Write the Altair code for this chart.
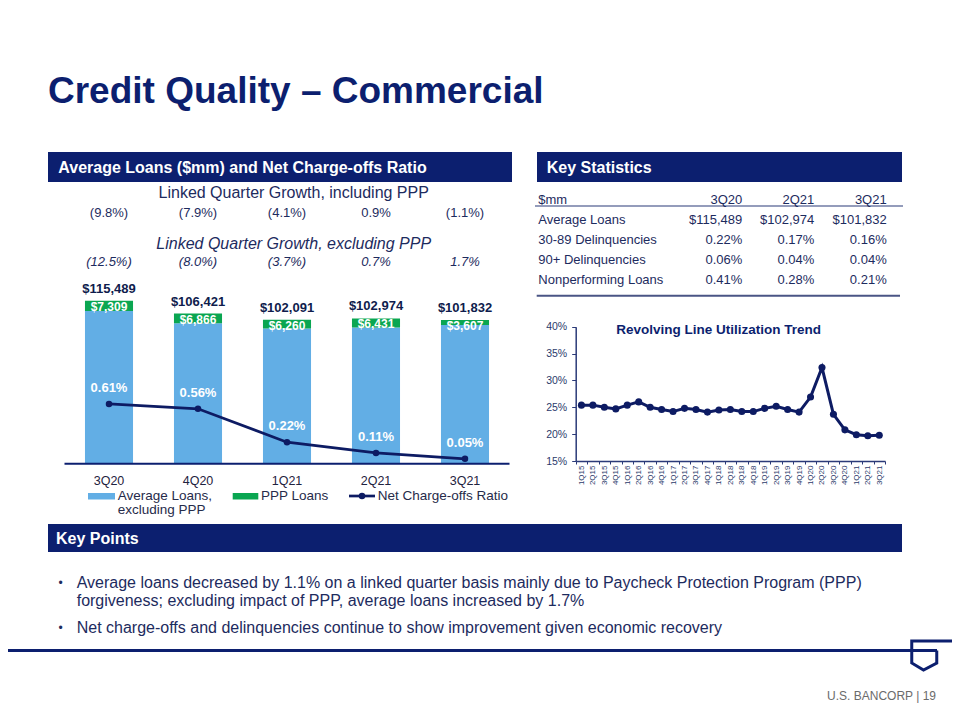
import altair as alt
import pandas as pd

FONT = "Liberation Sans"
NAVY = "#0c1f6f"
LINE_NAVY = "#0d1b63"
TXT = "#1d2b5e"
BLUE = "#62aee5"
GREEN = "#0aa651"

# ---------------- data ----------------
quarters = ["3Q20", "4Q20", "1Q21", "2Q21", "3Q21"]
avg_loans_total = [115489, 106421, 102091, 102974, 101832]
ppp_loans = [7309, 6866, 6260, 6431, 3607]
nco_ratio = [0.61, 0.56, 0.22, 0.11, 0.05]
growth_incl = ["(9.8%)", "(7.9%)", "(4.1%)", "0.9%", "(1.1%)"]
growth_excl = ["(12.5%)", "(8.0%)", "(3.7%)", "0.7%", "1.7%"]

util_quarters = ["1Q15", "2Q15", "3Q15", "4Q15", "1Q16", "2Q16", "3Q16", "4Q16",
                 "1Q17", "2Q17", "3Q17", "4Q17", "1Q18", "2Q18", "3Q18", "4Q18",
                 "1Q19", "2Q19", "3Q19", "4Q19", "1Q20", "2Q20", "3Q20", "4Q20",
                 "1Q21", "2Q21", "3Q21"]
util_values = [25.4, 25.4, 25.0, 24.7, 25.4, 26.0, 25.0, 24.6, 24.2, 24.8, 24.6, 24.1,
               24.5, 24.6, 24.2, 24.2, 24.8, 25.2, 24.6, 24.1, 26.9, 32.4, 23.7, 20.8,
               19.9, 19.7, 19.8]
util_ticks = [0.15, 0.20, 0.25, 0.30, 0.35, 0.40]

stat_rows = ["$mm", "Average Loans", "30-89 Delinquencies", "90+ Delinquencies", "Nonperforming Loans"]
col_3q20 = ["3Q20", "$115,489", "0.22%", "0.06%", "0.41%"]
col_2q21 = ["2Q21", "$102,974", "0.17%", "0.04%", "0.28%"]
col_3q21 = ["3Q21", "$101,832", "0.16%", "0.04%", "0.21%"]

bullet_1a = "Average loans decreased by 1.1% on a linked quarter basis mainly due to Paycheck Protection Program (PPP)"
bullet_1b = "forgiveness; excluding impact of PPP, average loans increased by 1.7%"
bullet_2 = "Net charge-offs and delinquencies continue to show improvement given economic recovery"


def P(v):
    # slide pixel -> chart pixel (page margin 8px)
    return v - 8


def txt(s, x, y, size, color=TXT, bold=False, italic=False, align="left", baseline="middle"):
    return alt.Chart(pd.DataFrame({"t": [s]})).mark_text(
        font=FONT, fontSize=size, color=color,
        fontWeight="bold" if bold else "normal",
        fontStyle="italic" if italic else "normal",
        align=align, baseline=baseline,
    ).encode(x=alt.value(P(x)), y=alt.value(P(y)), text="t:N")


def box(x1, y1, x2, y2, color):
    return alt.Chart(pd.DataFrame({"a": [0]})).mark_rect(color=color).encode(
        x=alt.value(P(x1)), x2=alt.value(P(x2)), y=alt.value(P(y1)), y2=alt.value(P(y2)))


def hline(x1, x2, y, color, w):
    return alt.Chart(pd.DataFrame({"a": [0]})).mark_rule(color=color, strokeWidth=w).encode(
        x=alt.value(P(x1)), x2=alt.value(P(x2)), y=alt.value(P(y)))


# ---------------- bar chart ----------------
df_bar = pd.DataFrame({"q": quarters, "total": avg_loans_total, "ppp": ppp_loans,
                       "gi": growth_incl, "ge": growth_excl})
df_bar["ex"] = df_bar["total"] - df_bar["ppp"]
df_bar["total_lbl"] = ["$" + f"{v:,}" for v in avg_loans_total]
df_bar["ppp_lbl"] = ["$" + f"{v:,}" for v in ppp_loans]

BASE_Y = 463.7


def xb():
    return alt.X("q:N", sort=quarters, title=None, axis=None,
                 scale=alt.Scale(type="band", domain=quarters, range=[P(64.5), P(509.5)],
                                 paddingInner=0.46, paddingOuter=0.23))


ysc = alt.Scale(domain=[0, 120000], range=[P(BASE_Y), P(BASE_Y - 169.3)], nice=False, zero=True)

bb = alt.Chart(df_bar)
blue_bars = bb.mark_bar(color=BLUE).encode(x=xb(), y=alt.Y("ex:Q", scale=ysc, axis=None))
green_bars = bb.mark_bar(color=GREEN).encode(x=xb(), y=alt.Y("ex:Q", scale=ysc, axis=None), y2="total:Q")
total_lbls = bb.mark_text(font=FONT, fontSize=13, fontWeight="bold", color="#0f1c4d",
                          baseline="bottom", dy=-5).encode(
    x=xb(), y=alt.Y("total:Q", scale=ysc, axis=None), text="total_lbl:N")
ppp_lbls = bb.mark_text(font=FONT, fontSize=12, fontWeight="bold", color="white",
                        baseline="middle", dy=6).encode(
    x=xb(), y=alt.Y("total:Q", scale=ysc, axis=None), text="ppp_lbl:N")
gi_row = bb.mark_text(font=FONT, fontSize=13, color=TXT, baseline="middle").encode(
    x=xb(), y=alt.value(P(213.3)), text="gi:N")
ge_row = bb.mark_text(font=FONT, fontSize=13, fontStyle="italic", color=TXT, baseline="middle").encode(
    x=xb(), y=alt.value(P(261.7)), text="ge:N")
q_axis_lbls = bb.mark_text(font=FONT, fontSize=12.5, color="#1f2340", baseline="middle").encode(
    x=xb(), y=alt.value(P(480.5)), text="q:N")
bar_layer = alt.layer(blue_bars, green_bars, total_lbls, ppp_lbls, gi_row, ge_row, q_axis_lbls)

# ---------------- net charge-offs line ----------------
df_nco = pd.DataFrame({"q": quarters, "nco": nco_ratio})
df_nco["lbl"] = [f"{v:.2f}%" for v in nco_ratio]
nsc = alt.Scale(domain=[0, 1], range=[P(BASE_Y), P(BASE_Y - 98)], nice=False, zero=True)
nb = alt.Chart(df_nco)
nco_line = nb.mark_line(color=LINE_NAVY, strokeWidth=2.7,
                        point=alt.OverlayMarkDef(filled=True, size=42, color=LINE_NAVY)).encode(
    x=xb(), y=alt.Y("nco:Q", scale=nsc, axis=None))
nco_lbls = nb.mark_text(font=FONT, fontSize=13, fontWeight="bold", color="white",
                        baseline="middle", dy=-16).encode(
    x=xb(), y=alt.Y("nco:Q", scale=nsc, axis=None), text="lbl:N")
nco_layer = alt.layer(nco_line, nco_lbls)

# ---------------- key statistics table ----------------
df_tab = pd.DataFrame({"row": list(range(len(stat_rows))), "label": stat_rows,
                       "a": col_3q20, "b": col_2q21, "c": col_3q21})
ytab = alt.Y("row:O", axis=None,
             scale=alt.Scale(type="point", domain=list(range(len(stat_rows))),
                             range=[P(200.2), P(279.5)], padding=0))
tb = alt.Chart(df_tab)
tab_layers = [
    tb.mark_text(font=FONT, fontSize=13, color=TXT, align="left", baseline="middle").encode(
        x=alt.value(P(538.3)), y=ytab, text="label:N"),
    tb.mark_text(font=FONT, fontSize=13, color=TXT, align="right", baseline="middle").encode(
        x=alt.value(P(742.3)), y=ytab, text="a:N"),
    tb.mark_text(font=FONT, fontSize=13, color=TXT, align="right", baseline="middle").encode(
        x=alt.value(P(814.3)), y=ytab, text="b:N"),
    tb.mark_text(font=FONT, fontSize=13, color=TXT, align="right", baseline="middle").encode(
        x=alt.value(P(886.7)), y=ytab, text="c:N"),
]
table_layer = alt.layer(*tab_layers)

# ---------------- revolving line utilization ----------------
df_util = pd.DataFrame({"q": util_quarters, "u": [v / 100 for v in util_values]})
UX0, UX1, UY0, UY1 = 575.7, 885.0, 461.0, 326.7
ux = alt.X("q:N", sort=util_quarters, title=None,
           scale=alt.Scale(type="band", domain=util_quarters, range=[P(UX0), P(UX1)],
                           paddingInner=0, paddingOuter=0),
           axis=alt.Axis(orient="bottom", offset=P(UY0) - 704, tickBand="extent", tickSize=3,
                         tickColor="#2b3a78", domainColor="#2b3a78", domainWidth=1.5,
                         labelAngle=270, labelFont=FONT, labelFontSize=8, labelPadding=1,
                         labelColor="#2b3a6b", grid=False, title=None))
uy = alt.Y("u:Q", title=None,
           scale=alt.Scale(domain=[0.15, 0.40], range=[P(UY0), P(UY1)], nice=False, zero=False),
           axis=alt.Axis(orient="left", offset=-P(UX0), values=util_ticks, format=".0%",
                         tickSize=4, tickColor="#2b3a78", domainColor="#2b3a78", domainWidth=1.5,
                         labelFont=FONT, labelFontSize=10.5, labelPadding=5,
                         labelColor="#2b3a6b", grid=False, title=None))
util_layer = alt.Chart(df_util).mark_line(
    color=LINE_NAVY, strokeWidth=3,
    point=alt.OverlayMarkDef(filled=True, size=50, color=LINE_NAVY)).encode(x=ux, y=uy)

# ---------------- slide decorations ----------------
legend_dot = alt.Chart(pd.DataFrame({"a": [0]})).mark_point(
    filled=True, size=42, color=LINE_NAVY, opacity=1).encode(x=alt.value(P(362)), y=alt.value(P(496)))

LOGO = "M 1.44 -0.56 L -0.49 -0.56 L -0.49 0.32 L -0.02 0.6 L 0.51 0.32 L 0.51 -0.18"
logo = alt.Chart(pd.DataFrame({"a": [0]})).mark_point(
    shape=LOGO, filled=False, size=2500, color=NAVY, strokeWidth=3, opacity=1,
    strokeJoin="miter").encode(x=alt.value(P(924)), y=alt.value(P(655)))

decor = [
    txt("Credit Quality – Commercial", 48, 103.3, 37, NAVY, bold=True, baseline="alphabetic"),
    box(48, 152, 512, 182, NAVY),
    txt("Average Loans ($mm) and Net Charge-offs Ratio", 58.3, 168, 16, "white", bold=True),
    box(537, 152, 902, 182, NAVY),
    txt("Key Statistics", 546.7, 168, 16, "white", bold=True),
    txt("Linked Quarter Growth, including PPP", 293.7, 193.3, 16, TXT, align="center"),
    txt("Linked Quarter Growth, excluding PPP", 293.7, 244.3, 16, TXT, italic=True, align="center"),
    hline(535, 903, 206, "#2b3a78", 1.2),
    hline(536.7, 900, 295.7, "#4a5585", 2),
    txt("Revolving Line Utilization Trend", 718.7, 330, 13.5, NAVY, bold=True, align="center"),
    box(88, 493, 115, 499.5, BLUE),
    txt("Average Loans,", 117.7, 496, 13.5, "#262b4a"),
    txt("excluding PPP", 117.7, 510, 13.5, "#262b4a"),
    box(232.7, 493, 258.3, 499.5, GREEN),
    txt("PPP Loans", 261, 496, 13.5, "#262b4a"),
    hline(349, 375, 496, LINE_NAVY, 2.7),
    legend_dot,
    txt("Net Charge-offs Ratio", 377.7, 496, 13.5, "#262b4a"),
    box(48, 524, 902, 552, NAVY),
    txt("Key Points", 56, 538.5, 16, "white", bold=True),
    txt("•", 60.7, 582.7, 12, TXT, align="center"),
    txt(bullet_1a, 76.7, 582.7, 16, TXT),
    txt(bullet_1b, 76.7, 601, 16, TXT),
    txt("•", 60.7, 628.3, 12, TXT, align="center"),
    txt(bullet_2, 76.7, 628.3, 16, TXT),
    hline(0, 937, 650.5, NAVY, 3),
    logo,
    txt("U.S. BANCORP  |  19", 936, 696, 12, "#6b6b6b", align="right"),
]

bar_baseline = hline(64.5, 509.5, BASE_Y, NAVY, 2)

chart = alt.layer(
    *decor, bar_layer, bar_baseline, nco_layer, table_layer, util_layer
).resolve_scale(
    x="independent", y="independent"
).properties(
    width=944, height=704, padding=0, autosize=alt.AutoSizeParams(type="none"),
    background="white"
).configure(font=FONT).configure_view(stroke="transparent").configure_axis(grid=False)

chart.save("out.html", embed_options={"renderer": "svg", "actions": False})
